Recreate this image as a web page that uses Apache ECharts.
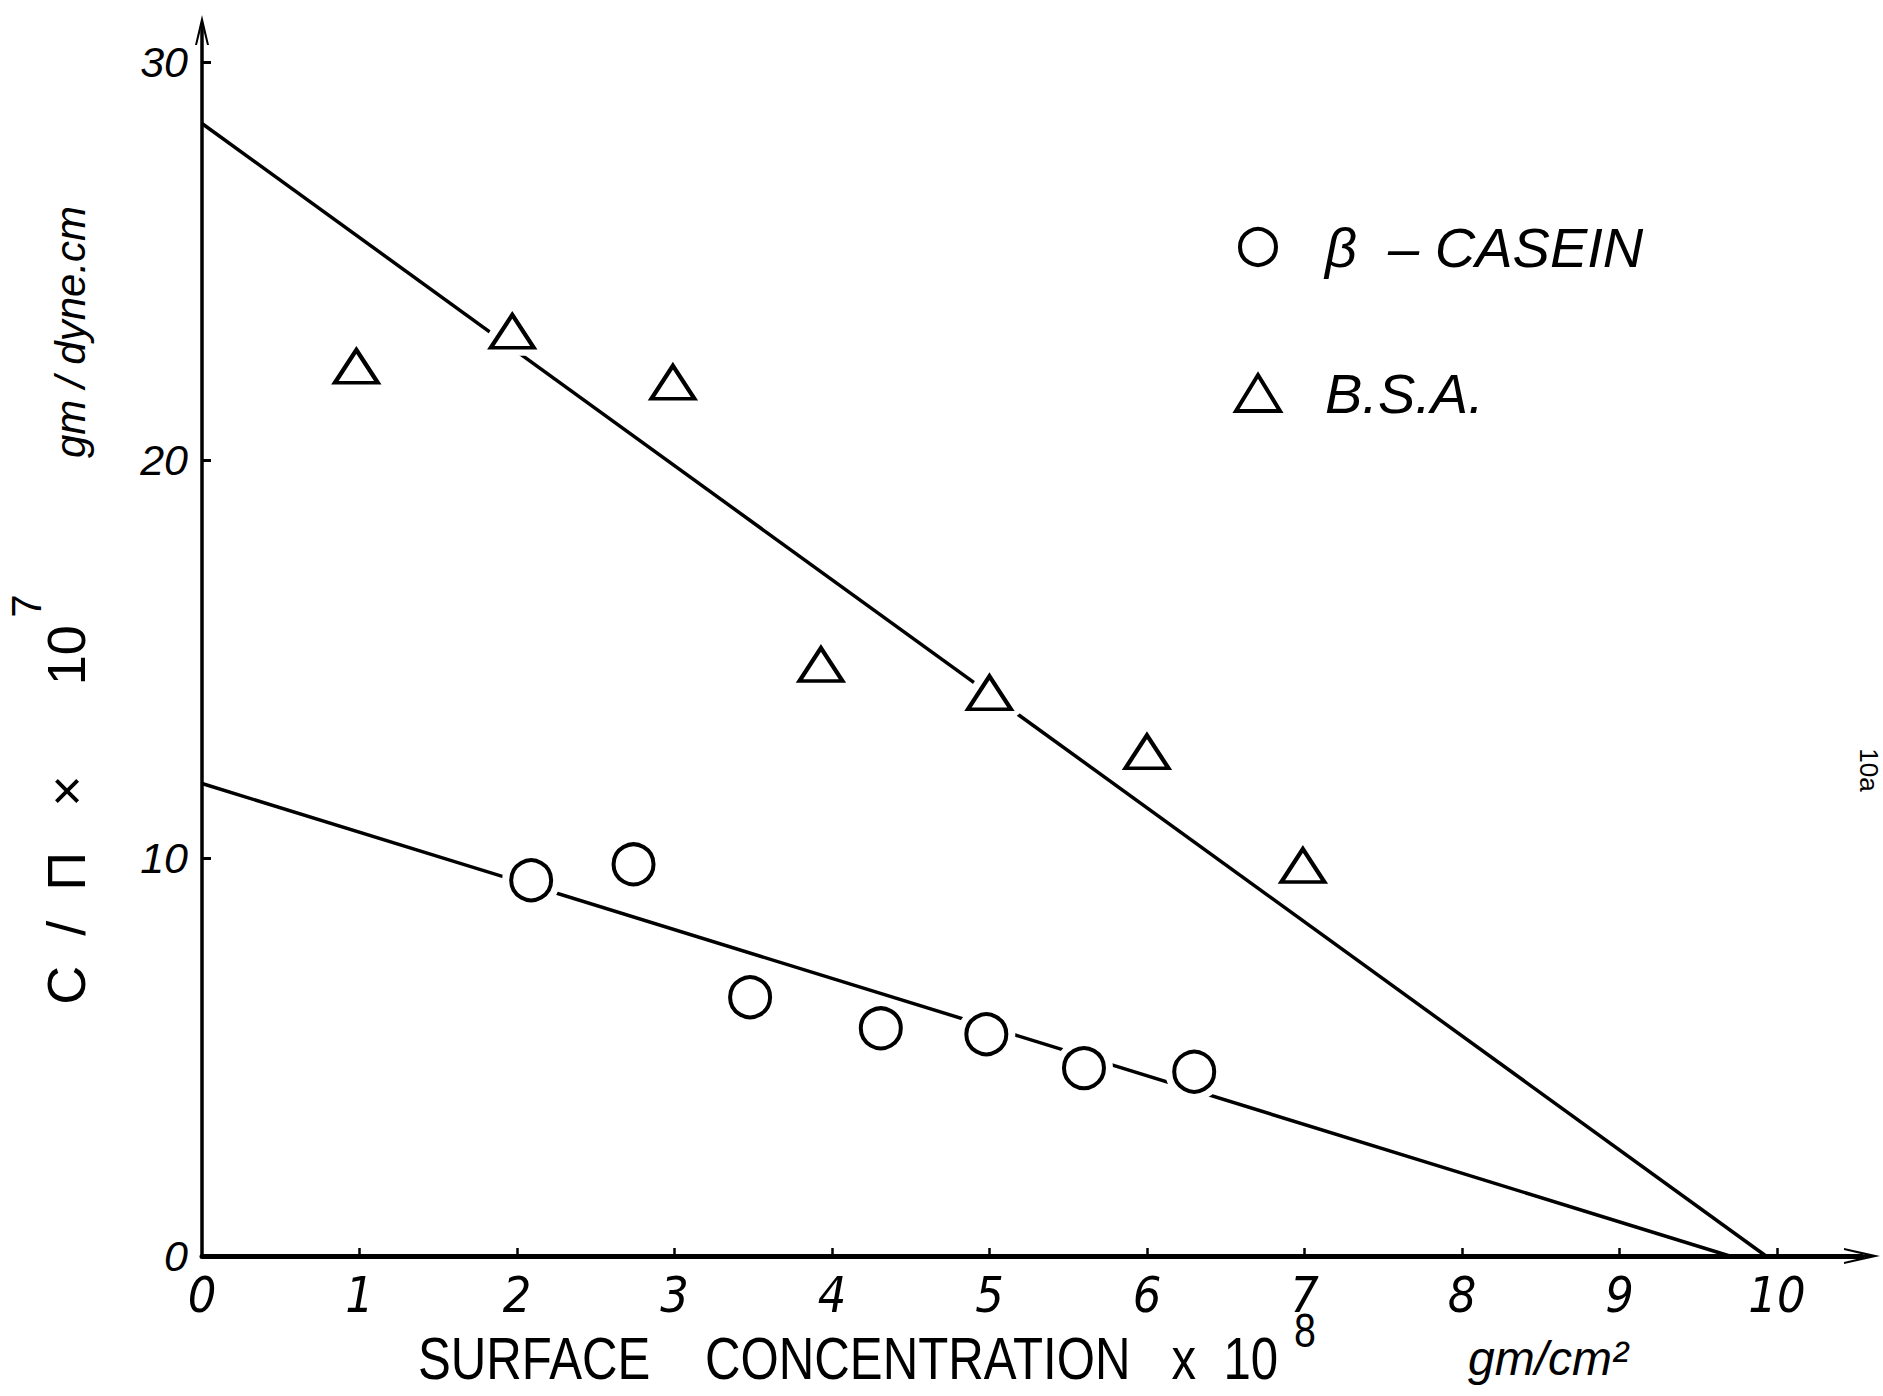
<!DOCTYPE html>
<html>
<head>
<meta charset="utf-8">
<script src="https://cdn.jsdelivr.net/npm/echarts@6/dist/echarts.min.js"></script>
<style>
  html, body { margin: 0; padding: 0; background: #ffffff; }
  #chart { width: 1883px; height: 1396px; }
</style>
</head>
<body>
<div id="chart"></div>
<script>
// Surface concentration (x 10^8 g/cm^2) against C/Pi (x 10^7 g/dyne.cm)
const xTicks = [0, 1, 2, 3, 4, 5, 6, 7, 8, 9, 10];
const xTickMarks = [1, 2, 3, 4, 5, 6, 7, 8, 9, 10];
const yTicks = [0, 10, 20, 30];
const yTickMarks = [10, 20, 30];

const seriesNames = ['β  – CASEIN', 'B.S.A.'];

// beta-casein measurements
const caseinConc  = [2.09, 2.74, 3.48, 4.31, 4.98, 5.60, 6.30];
const caseinRatio = [9.44, 9.84, 6.50, 5.72, 5.57, 4.72, 4.63];

// bovine serum albumin measurements
const bsaConc  = [0.98, 1.97, 2.99, 3.93, 5.00, 6.00, 6.99];
const bsaRatio = [22.35, 23.23, 21.95, 14.86, 14.15, 12.67, 9.81];

// straight-line fits, given by their two end points
const caseinFit = [[0, 11.87], [9.70, 0]];
const bsaFit    = [[0, 28.45], [9.93, 0]];

const pairs = (xs, ys) => xs.map((x, i) => [x, ys[i]]);

const INK = '#000000';
const upArrow = 'path://M7,0 L14,30 L12,30 L7.8,13 L7.8,30 L6.2,30 L6.2,13 L2,30 L0,30 Z';
const sideArrow = 'path://M8,0 L16,36 L14,36 L8.9,15 L8.9,36 L7.1,36 L7.1,15 L2,36 L0,36 Z';

const circleSize = 40;
const triangleSize = [43, 33];
const markStroke = 4;

const chart = echarts.init(document.getElementById('chart'), null, { renderer: 'svg' });

chart.setOption({
  backgroundColor: '#ffffff',
  animation: false,
  grid: { left: 202, right: 21, top: 30, bottom: 140, containLabel: false },
  xAxis: {
    type: 'value',
    min: 0,
    max: 10.54,
    axisLine: {
      show: true,
      onZero: false,
      symbol: ['none', sideArrow],
      symbolSize: [16, 36],
      lineStyle: { color: INK, width: 5 }
    },
    axisTick: {
      show: true,
      inside: true,
      length: 8,
      customValues: xTickMarks,
      lineStyle: { color: INK, width: 2.5 }
    },
    axisLabel: {
      customValues: xTicks,
      margin: 14,
      color: INK,
      fontSize: 50,
      fontStyle: 'italic',
      fontFamily: '"Liberation Sans Narrow", "DejaVu Sans Condensed", "Liberation Sans", sans-serif'
    },
    splitLine: { show: false }
  },
  yAxis: {
    type: 'value',
    min: 0,
    max: 30.8,
    axisLine: {
      show: true,
      onZero: false,
      symbol: ['none', upArrow],
      symbolSize: [14, 30],
      lineStyle: { color: INK, width: 3.5 }
    },
    axisTick: {
      show: true,
      inside: true,
      length: 9,
      customValues: yTickMarks,
      lineStyle: { color: INK, width: 3 }
    },
    axisLabel: {
      customValues: yTicks,
      margin: 14,
      color: INK,
      fontSize: 43,
      fontStyle: 'italic',
      fontFamily: '"Liberation Sans", sans-serif'
    },
    splitLine: { show: false }
  },
  legend: {
    data: seriesNames,
    orient: 'vertical',
    left: 1229,
    top: 209,
    itemWidth: 44,
    itemHeight: 36,
    itemGap: 80,
    selectedMode: false,
    itemStyle: { color: '#ffffff', borderColor: INK, borderWidth: markStroke, opacity: 1 },
    textStyle: {
      color: INK,
      fontSize: 56,
      lineHeight: 60,
      fontStyle: 'italic',
      fontFamily: '"Liberation Sans", sans-serif',
      padding: [6, 0, 0, 40]
    }
  },
  series: [
    {
      name: 'casein fit',
      type: 'line',
      data: caseinFit,
      symbol: 'none',
      silent: true,
      z: 2,
      lineStyle: { color: INK, width: 3.5, opacity: 1 }
    },
    {
      name: 'bsa fit',
      type: 'line',
      data: bsaFit,
      symbol: 'none',
      silent: true,
      z: 2,
      lineStyle: { color: INK, width: 3.5, opacity: 1 }
    },
    {
      // white clearing round each marker so the fitted lines break there
      name: 'casein clearing',
      type: 'scatter',
      data: pairs(caseinConc, caseinRatio),
      symbol: 'circle',
      symbolSize: circleSize,
      silent: true,
      z: 3,
      itemStyle: { color: '#ffffff', borderColor: '#ffffff', borderWidth: 18, opacity: 1 }
    },
    {
      name: 'bsa clearing',
      type: 'scatter',
      data: pairs(bsaConc, bsaRatio),
      symbol: 'triangle',
      symbolSize: triangleSize,
      silent: true,
      z: 3,
      itemStyle: { color: '#ffffff', borderColor: '#ffffff', borderWidth: 18, borderJoin: 'round', opacity: 1 }
    },
    {
      name: seriesNames[0],
      type: 'scatter',
      data: pairs(caseinConc, caseinRatio),
      symbol: 'circle',
      symbolSize: circleSize,
      z: 4,
      itemStyle: { color: '#ffffff', borderColor: INK, borderWidth: markStroke, opacity: 1 },
      emphasis: { disabled: true }
    },
    {
      name: seriesNames[1],
      type: 'scatter',
      data: pairs(bsaConc, bsaRatio),
      symbol: 'triangle',
      symbolSize: triangleSize,
      z: 4,
      itemStyle: { color: '#ffffff', borderColor: INK, borderWidth: markStroke, opacity: 1 },
      emphasis: { disabled: true }
    }
  ],
  graphic: [
    {
      type: 'text',
      x: 418, y: 1358,
      scaleX: 0.82,
      style: {
        text: 'SURFACE    CONCENTRATION   x  10',
        fontSize: 60,
        fontFamily: '"Liberation Sans", sans-serif',
        fill: INK,
        align: 'left',
        verticalAlign: 'middle'
      }
    },
    {
      type: 'text',
      x: 1305, y: 1330,
      scaleX: 0.82,
      style: {
        text: '8',
        fontSize: 48,
        fontFamily: '"Liberation Sans", sans-serif',
        fill: INK,
        align: 'center',
        verticalAlign: 'middle'
      }
    },
    {
      type: 'text',
      x: 1468, y: 1358,
      style: {
        text: 'gm/cm²',
        fontSize: 48,
        fontStyle: 'italic',
        fontFamily: '"Liberation Sans", sans-serif',
        fill: INK,
        align: 'left',
        verticalAlign: 'middle'
      }
    },
    {
      type: 'text',
      x: 66, y: 815,
      rotation: Math.PI / 2,
      style: {
        text: 'C  /  Π   ×      10',
        fontSize: 54,
        fontFamily: '"Liberation Sans", sans-serif',
        fill: INK,
        align: 'center',
        verticalAlign: 'middle'
      }
    },
    {
      type: 'text',
      x: 26, y: 606,
      rotation: Math.PI / 2,
      style: {
        text: '7',
        fontSize: 42,
        fontFamily: '"Liberation Sans", sans-serif',
        fill: INK,
        align: 'center',
        verticalAlign: 'middle'
      }
    },
    {
      type: 'text',
      x: 70, y: 332,
      rotation: Math.PI / 2,
      style: {
        text: 'gm / dyne.cm',
        fontSize: 42,
        fontStyle: 'italic',
        fontFamily: '"Liberation Sans", sans-serif',
        fill: INK,
        align: 'center',
        verticalAlign: 'middle'
      }
    },
    {
      type: 'text',
      x: 1869, y: 770,
      rotation: -Math.PI / 2,
      style: {
        text: '10a',
        fontSize: 26,
        fontFamily: '"Liberation Sans", sans-serif',
        fill: INK,
        align: 'center',
        verticalAlign: 'middle'
      }
    }
  ]
});
</script>
</body>
</html>
